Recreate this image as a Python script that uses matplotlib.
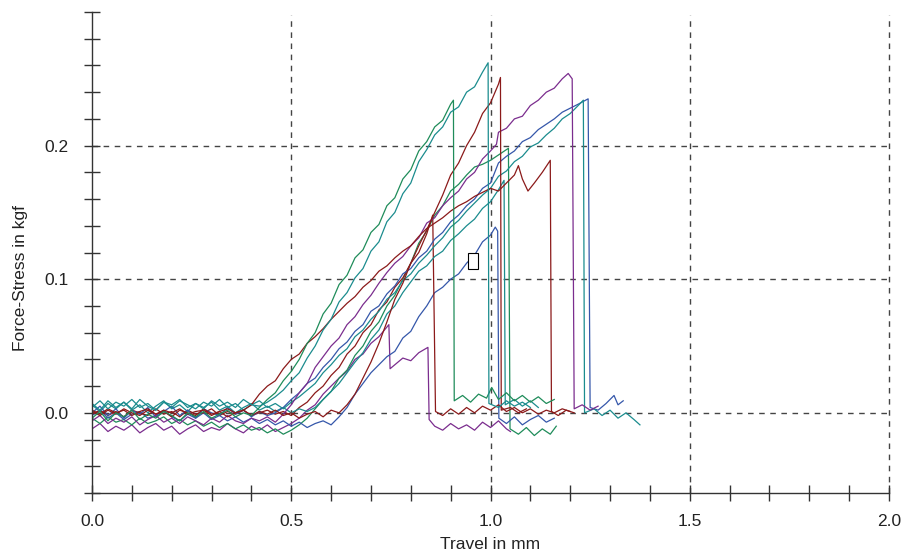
import matplotlib
matplotlib.use("Agg")
import matplotlib.pyplot as plt
from matplotlib.patches import Rectangle
from matplotlib.ticker import MultipleLocator

plt.rcParams['font.family'] = ['Liberation Sans', 'DejaVu Sans']

def grid(start, stop, step):
    n = int(round((stop - start) / step)) + 1
    return [round(start + i * step, 3) for i in range(n)]

# ---------------- data ----------------
# C1 teal, peak 0.262 at 0.994
c1_x = grid(0.0, 0.42, 0.02) + grid(0.44, 0.98, 0.02) + [0.994, 0.996, 1.02, 1.04, 1.06, 1.08, 1.10]
c1_y = [0.004, 0.009, 0.003, 0.008, 0.005, 0.010, 0.004, 0.007, 0.002, 0.008, 0.006, 0.010, 0.004, 0.007, 0.003, 0.009, 0.005, 0.008, 0.004, 0.010, 0.006, 0.005,
        0.008, 0.012, 0.017, 0.024, 0.030, 0.041, 0.050, 0.062, 0.070, 0.083, 0.090, 0.101, 0.108, 0.121, 0.128, 0.143, 0.150, 0.164, 0.172, 0.188, 0.197, 0.208, 0.214, 0.225, 0.229, 0.240, 0.244, 0.255,
        0.262, 0.007, 0.004, 0.009, 0.005, 0.008, 0.004]

# C2 green, peak 0.234 at 0.907
c2_x = grid(0.0, 0.40, 0.02) + grid(0.42, 0.90, 0.02) + [0.907, 0.909, 0.93, 0.95, 0.97, 0.99, 1.003, 1.02, 1.04, 1.06, 1.08, 1.10, 1.12, 1.14, 1.16]
c2_y = [-0.004, 0.001, -0.006, 0.000, -0.003, 0.002, -0.005, -0.001, -0.004, 0.001, -0.002, -0.006, 0.000, -0.003, 0.001, -0.004, -0.001, 0.002, -0.003, 0.000, -0.002,
        0.004, 0.010, 0.015, 0.024, 0.031, 0.040, 0.052, 0.060, 0.074, 0.082, 0.096, 0.103, 0.116, 0.122, 0.135, 0.141, 0.155, 0.161, 0.175, 0.182, 0.196, 0.203, 0.214, 0.219, 0.231,
        0.234, 0.009, 0.013, 0.008, 0.014, 0.011, 0.019, 0.010, 0.015, 0.009, 0.013, 0.008, 0.012, 0.007, 0.010]

# C3 dark red, peak 0.251 at 1.025
c3_x = grid(0.0, 0.62, 0.02) + grid(0.64, 1.02, 0.02) + [1.025, 1.027, 1.05, 1.07, 1.09]
c3_y = [0.001, -0.002, 0.002, -0.001, 0.003, 0.000, -0.002, 0.002, -0.001, 0.001, -0.003, 0.002, 0.000, -0.002, 0.003, -0.001, 0.001, -0.003, 0.000, 0.002, -0.002, 0.001, -0.001, 0.002, -0.002, 0.000, -0.004, -0.001, 0.001, -0.003, 0.002, 0.000,
        0.006, 0.014, 0.026, 0.038, 0.052, 0.068, 0.085, 0.097, 0.112, 0.125, 0.137, 0.150, 0.163, 0.178, 0.187, 0.200, 0.210, 0.224, 0.232, 0.246,
        0.251, 0.002, 0.004, 0.000, 0.003]

# C7 dark red, early riser, ends 0.189 at 1.15
c7_x = grid(0.0, 0.38, 0.02) + grid(0.40, 1.06, 0.02) + [1.07, 1.08, 1.094, 1.11, 1.13, 1.15, 1.153, 1.17, 1.19, 1.21]
c7_y = [0.002, -0.001, 0.003, 0.000, 0.002, -0.002, 0.001, 0.003, -0.001, 0.002, 0.000, 0.003, -0.001, 0.001, 0.002, -0.002, 0.001, 0.003, 0.000, 0.002,
        0.006, 0.014, 0.020, 0.024, 0.033, 0.040, 0.044, 0.052, 0.057, 0.063, 0.070, 0.076, 0.082, 0.087, 0.094, 0.099, 0.106, 0.110, 0.116, 0.121, 0.125, 0.132, 0.138, 0.142,
        0.146, 0.151, 0.155, 0.158, 0.162, 0.165, 0.168, 0.166, 0.172, 0.178,
        0.185, 0.175, 0.166, 0.172, 0.180, 0.189, 0.001, -0.002, 0.002, 0.000]

# C11 dark red, breaks at 0.862
c11_x = grid(0.0, 0.50, 0.02) + grid(0.52, 0.84, 0.02) + [0.855, 0.862] + grid(0.88, 1.20, 0.02)
c11_y = [-0.001, 0.002, -0.002, 0.001, -0.003, 0.002, 0.000, -0.002, 0.003, -0.001, 0.001, -0.003, 0.002, -0.001, 0.000, 0.003, -0.002, 0.001, -0.001, 0.002, -0.002, 0.000, 0.002, -0.001, 0.001, -0.002,
         0.004, 0.008, 0.015, 0.020, 0.028, 0.034, 0.044, 0.050, 0.060, 0.066, 0.077, 0.083, 0.094, 0.101, 0.112, 0.120, 0.134,
         0.148, 0.001,
         -0.002, 0.003, -0.001, 0.004, 0.000, 0.005, 0.002, 0.006, 0.001, 0.004, 0.000, 0.003, -0.001, 0.002, 0.000, 0.003, 0.001]

# C4 purple, peak 0.254 at 1.195
c4_x = grid(0.0, 0.46, 0.02) + grid(0.48, 1.00, 0.02) + [1.015] + grid(1.02, 1.18, 0.02) + [1.195, 1.205, 1.21, 1.23, 1.25, 1.27]
c4_y = [-0.006, -0.002, -0.008, -0.004, -0.007, -0.003, -0.009, -0.005, -0.002, -0.007, -0.004, -0.008, -0.003, -0.006, -0.009, -0.004, -0.007, -0.002, -0.006, -0.008, -0.004, -0.006, -0.003, -0.007,
        -0.001, 0.006, 0.015, 0.022, 0.034, 0.042, 0.050, 0.056, 0.066, 0.072, 0.081, 0.088, 0.097, 0.105, 0.112, 0.117, 0.125, 0.131, 0.142, 0.146, 0.155, 0.161, 0.166, 0.175, 0.180, 0.190, 0.196,
        0.201,
        0.210, 0.213, 0.220, 0.222, 0.230, 0.234, 0.240, 0.243, 0.250,
        0.254, 0.250, 0.003, 0.006, 0.002, 0.005]

# C12 purple, low curve with two breaks
c12_x = grid(0.0, 0.50, 0.02) + grid(0.52, 0.72, 0.02) + [0.745, 0.748, 0.76, 0.78, 0.80, 0.82, 0.843, 0.846] + grid(0.86, 1.04, 0.02) + [1.05]
c12_y = [-0.012, -0.008, -0.014, -0.010, -0.013, -0.009, -0.015, -0.011, -0.008, -0.013, -0.010, -0.016, -0.012, -0.009, -0.014, -0.011, -0.013, -0.008, -0.012, -0.015, -0.010, -0.013, -0.009, -0.014, -0.011, -0.008,
         -0.004, 0.002, 0.006, 0.014, 0.020, 0.026, 0.031, 0.040, 0.044, 0.052, 0.057,
         0.066, 0.033, 0.036, 0.041, 0.039, 0.045, 0.049, -0.005,
         -0.010, -0.013, -0.008, -0.012, -0.009, -0.013, -0.007, -0.011, -0.006, -0.012, -0.014]

# C5 blue, peak 0.235 at 1.245
c5_x = grid(0.0, 0.46, 0.02) + grid(0.48, 1.22, 0.02) + [1.245, 1.25, 1.27, 1.29, 1.31, 1.32, 1.333]
c5_y = [0.000, 0.005, -0.002, 0.003, -0.004, 0.002, -0.001, 0.004, -0.003, 0.001, 0.005, -0.002, 0.002, -0.004, 0.003, 0.000, -0.002, 0.004, -0.001, 0.002, -0.003, 0.001, -0.002, 0.000,
        0.004, 0.010, 0.015, 0.022, 0.026, 0.034, 0.040, 0.048, 0.053, 0.061, 0.066, 0.076, 0.080, 0.089, 0.095, 0.104, 0.108, 0.116, 0.121, 0.130, 0.135, 0.143, 0.148, 0.155, 0.160, 0.168, 0.172,
        0.187, 0.192, 0.196, 0.203, 0.206, 0.212, 0.216, 0.220, 0.225, 0.228, 0.231,
        0.235, 0.004, 0.002, 0.007, 0.013, 0.006, 0.009]

# C6 teal, peak 0.234 at 1.233
c6_x = grid(0.0, 0.48, 0.02) + grid(0.50, 1.22, 0.02) + [1.233, 1.236] + grid(1.26, 1.36, 0.02) + [1.375]
c6_y = [0.007, 0.002, 0.009, 0.004, 0.008, 0.003, 0.010, 0.005, 0.002, 0.008, 0.004, 0.009, 0.006, 0.003, 0.008, 0.005, 0.010, 0.004, 0.007, 0.002, 0.006, 0.009, 0.004, 0.007, 0.003,
        0.008, 0.012, 0.017, 0.022, 0.030, 0.036, 0.043, 0.048, 0.057, 0.062, 0.070, 0.076, 0.085, 0.090, 0.099, 0.104, 0.112, 0.118, 0.125, 0.131, 0.139, 0.144, 0.151, 0.157, 0.163, 0.168,
        0.177, 0.181, 0.188, 0.192, 0.199, 0.202, 0.208, 0.213, 0.220, 0.224, 0.230,
        0.234, 0.000, 0.003, -0.002, 0.002, -0.004, 0.000, -0.005, -0.009]

# C8 green, peak 0.198 at 1.045
c8_x = grid(0.0, 0.50, 0.02) + grid(0.52, 1.02, 0.02) + [1.045, 1.049, 1.07, 1.09, 1.11, 1.13, 1.15, 1.165]
c8_y = [-0.004, -0.008, -0.003, -0.007, -0.005, -0.009, -0.004, -0.008, -0.006, -0.003, -0.008, -0.005, -0.009, -0.006, -0.010, -0.007, -0.011, -0.008, -0.012, -0.009, -0.013, -0.011, -0.015, -0.012, -0.016, -0.013,
        -0.009, -0.004, 0.003, 0.010, 0.016, 0.026, 0.032, 0.043, 0.050, 0.061, 0.068, 0.080, 0.088, 0.100, 0.112, 0.127, 0.136, 0.148, 0.155, 0.166, 0.171, 0.178, 0.184, 0.186, 0.189, 0.193,
        0.198, -0.012, -0.016, -0.011, -0.017, -0.012, -0.016, -0.010]

# C9 teal, breaks at 1.037
c9_x = grid(0.0, 0.54, 0.02) + grid(0.56, 1.02, 0.02) + [1.034, 1.037, 1.06, 1.08, 1.10, 1.12]
c9_y = [0.006, 0.001, 0.007, 0.003, 0.008, 0.002, 0.006, 0.000, 0.005, 0.009, 0.003, 0.006, 0.001, 0.007, 0.004, 0.008, 0.002, 0.005, 0.000, 0.004, 0.007, 0.002, 0.005, 0.001, 0.004, 0.000, 0.003, 0.001,
        0.004, 0.010, 0.016, 0.022, 0.030, 0.038, 0.045, 0.055, 0.062, 0.074, 0.080, 0.090, 0.098, 0.106, 0.110, 0.117, 0.121, 0.129, 0.134, 0.140, 0.145, 0.153, 0.158, 0.167,
        0.174, 0.006, 0.010, 0.005, 0.009, 0.004]

# C10 blue, breaks at 1.021
c10_x = grid(0.0, 0.60, 0.02) + grid(0.62, 1.00, 0.02) + [1.012, 1.018, 1.021] + grid(1.04, 1.16, 0.02)
c10_y = [-0.002, 0.002, -0.004, 0.000, -0.005, -0.001, 0.001, -0.004, -0.002, 0.002, -0.003, -0.006, -0.001, -0.004, 0.000, -0.005, -0.002, -0.006, -0.003, -0.007, -0.004, -0.008, -0.005, -0.009, -0.006, -0.010, -0.007, -0.011, -0.008, -0.006, -0.009,
         -0.003, 0.004, 0.014, 0.022, 0.030, 0.036, 0.042, 0.046, 0.056, 0.061, 0.072, 0.080, 0.090, 0.094, 0.100, 0.104, 0.112, 0.118, 0.128, 0.133,
         0.139, 0.136, -0.004,
         -0.008, -0.003, -0.009, -0.005, -0.002, -0.007, -0.004]

x_tick_labels = ["0.0", "0.5", "1.0", "1.5", "2.0"]
y_tick_labels = ["0.0", "0.1", "0.2"]

GREEN = "#1f8c5a"
TEAL = "#1b8c8e"
DARKRED = "#8b1a1a"
PURPLE = "#7b2d8e"
BLUE = "#3557aa"

curves = [
    (c12_x, c12_y, PURPLE),
    (c8_x, c8_y, GREEN),
    (c10_x, c10_y, BLUE),
    (c11_x, c11_y, DARKRED),
    (c9_x, c9_y, TEAL),
    (c5_x, c5_y, BLUE),
    (c6_x, c6_y, TEAL),
    (c4_x, c4_y, PURPLE),
    (c7_x, c7_y, DARKRED),
    (c3_x, c3_y, DARKRED),
    (c2_x, c2_y, GREEN),
    (c1_x, c1_y, TEAL),
]

# ---------------- figure ----------------
fig = plt.figure(figsize=(9.07, 5.56), dpi=100)
ax = fig.add_axes([92 / 907, 1 - 493 / 556, (889 - 92) / 907, (493 - 12) / 556])
ax.set_xlim(0.0, 2.0)
ax.set_ylim(-0.06, 0.30)

for xs, ys, col in curves:
    ax.plot(xs, ys, color=col, lw=0.9)

# small annotation box
ax.add_patch(Rectangle((0.944, 0.108), 0.025, 0.012, facecolor="white", edgecolor="black", lw=0.8, zorder=5))

for v in [0.5, 1.0, 1.5, 2.0]:
    ax.plot([v, v], [-0.06, 0.298], color="#444444", lw=1.0, ls=(0, (4, 4)), zorder=0, clip_on=False)
for v in [0.0, 0.1, 0.2]:
    ax.axhline(v, color="#444444", lw=1.0, ls=(0, (4, 4)), zorder=0)

for s in ["top", "right"]:
    ax.spines[s].set_visible(False)
for s in ["left", "bottom"]:
    ax.spines[s].set_color("#333333")
    ax.spines[s].set_linewidth(1.0)

ax.xaxis.set_minor_locator(MultipleLocator(0.1))
ax.yaxis.set_minor_locator(MultipleLocator(0.02))
ax.set_xticks([0.0, 0.5, 1.0, 1.5, 2.0])
ax.set_xticklabels(x_tick_labels)
ax.set_yticks([0.0, 0.1, 0.2])
ax.set_yticklabels(y_tick_labels)
ax.tick_params(which="both", direction="inout", length=12, width=1.0, color="#333333",
               labelsize=12.5, labelcolor="#222222")
ax.tick_params(axis="x", which="major", pad=9)
ax.tick_params(axis="y", which="major", pad=11)

ax.set_xlabel("Travel in mm", fontsize=12.5, color="#222222", labelpad=6)
ax.set_ylabel("Force-Stress in kgf", fontsize=12.5, color="#222222")
ax.yaxis.set_label_coords(-0.08, 0.447)

fig.savefig("out.png", dpi=100)
